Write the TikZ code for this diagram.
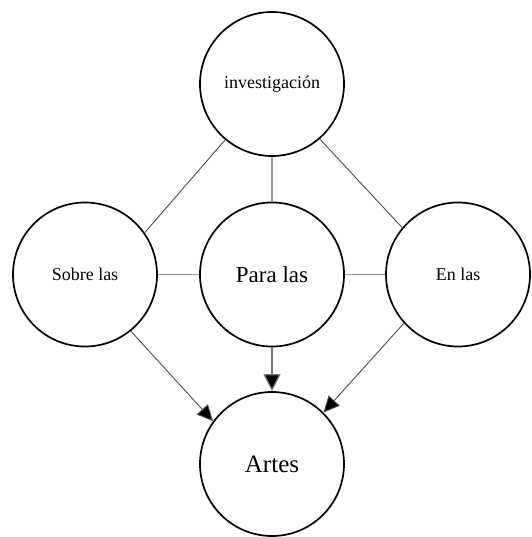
\documentclass[tikz,border=0pt]{standalone}
\usepackage{fontspec}
\setmainfont{Liberation Serif}
\usetikzlibrary{arrows.meta}
\begin{document}
\begin{tikzpicture}[x=1pt,y=-1pt,
  bubble/.style={draw=black,circle,line width=1.7pt,minimum size=144pt,inner sep=0pt,fill=white},
  darkline/.style={draw=black!70,line width=0.9pt},
  lightline/.style={draw=black!40,line width=1.3pt},
  tip/.style={-{Triangle[length=16pt,width=15pt,fill=black]}},
  bigtip/.style={-{Triangle[length=17pt,width=17pt,fill=black]}}
]
\useasboundingbox (0,0) rectangle (531,537);
\node[bubble,font=\fontsize{18}{20}\selectfont] (top) at (272,84) {investigación};
\node[bubble,font=\fontsize{18}{20}\selectfont] (left) at (85,274.5) {Sobre las};
\node[bubble,font=\fontsize{23}{25}\selectfont] (mid) at (272,274.5) {Para las};
\node[bubble,font=\fontsize{18}{20}\selectfont] (right) at (458,274.5) {En las};
\node[bubble,font=\fontsize{25}{27}\selectfont] (bot) at (272,464) {Artes};
\draw[darkline] (top.230) -- (left.35);
\draw[darkline] (top.311) -- (right.140);
\draw[lightline] (top.south) -- (mid.north);
\draw[lightline] (left.east) -- (mid.west);
\draw[lightline] (mid.east) -- (right.west);
\draw[darkline,tip] (left.309) -- (bot.144);
\draw[darkline,tip] (right.222) -- (bot.45);
\draw[lightline,draw=black!55,bigtip] (mid.south) -- (bot.north);
\end{tikzpicture}
\end{document}
